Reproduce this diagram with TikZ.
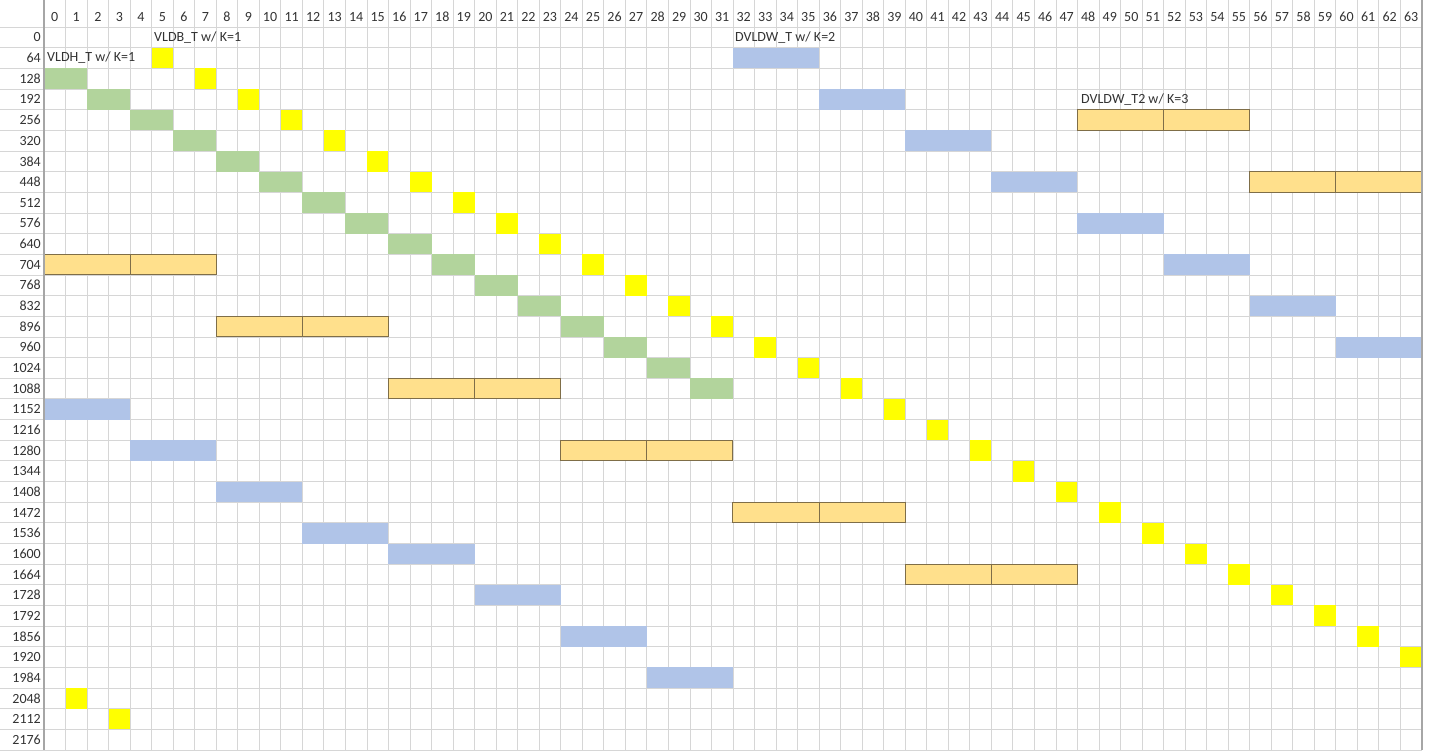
\documentclass[tikz,border=0pt]{standalone}
\usepackage{fontspec}
\setmainfont{Carlito}
\definecolor{gridc}{HTML}{D6D6D6}
\definecolor{hdrline}{HTML}{A6A6A6}
\definecolor{ylw}{HTML}{FFFF00}
\definecolor{grn}{HTML}{B2D49C}
\definecolor{blu}{HTML}{B0C4E8}
\definecolor{org}{HTML}{FFE08C}
\definecolor{orgline}{HTML}{7F6E48}
\definecolor{txt}{HTML}{333333}
\begin{document}
\begin{tikzpicture}[x=1pt,y=-1pt,
  lbl/.style={font=\fontsize{14}{16}\selectfont, text=txt, inner sep=0pt},
  gridline/.style={draw=gridc, line width=0.8pt},
  sepline/.style={draw=hdrline, line width=1.2pt},
  ycell/.style={fill=ylw},
  gcell/.style={fill=grn},
  bcell/.style={fill=blu},
  ocell/.style={fill=org, draw=orgline, line width=1pt}]
\def\cw{21.53}
\def\rh{20.66}
\def\xo{44}
\def\yo{27}
\useasboundingbox (0,0) rectangle (1432,750);
\fill[white] (0,0) rectangle (1432,750);
% grid
\foreach \c in {0,...,64} \draw[gridline] ({\xo+\c*\cw},0) -- ({\xo+\c*\cw},750);
\foreach \i in {0,...,35} \draw[gridline] (0,{\yo+\i*\rh}) -- (1422,{\yo+\i*\rh});
% yellow VLDB_T
\foreach \i in {1,...,30} {
  \pgfmathtruncatemacro{\c}{2*\i+3}
  \fill[ycell] ({\xo+\c*\cw},{\yo+\i*\rh}) rectangle ++(\cw,\rh);
}
\foreach \c/\i in {1/32,3/33}
  \fill[ycell] ({\xo+\c*\cw},{\yo+\i*\rh}) rectangle ++(\cw,\rh);
% green VLDH_T
\foreach \i in {2,...,17} {
  \pgfmathtruncatemacro{\c}{2*(\i-2)}
  \fill[gcell] ({\xo+\c*\cw},{\yo+\i*\rh}) rectangle ++({2*\cw},\rh);
}
% blue DVLDW_T
\foreach \c/\i in {32/1,36/3,40/5,44/7,48/9,52/11,56/13,60/15,0/18,4/20,8/22,12/24,16/25,20/27,24/29,28/31}
  \fill[bcell] ({\xo+\c*\cw},{\yo+\i*\rh}) rectangle ++({4*\cw},\rh);
% orange DVLDW_T2
\foreach \c/\i in {48/4,56/7,0/11,8/14,16/17,24/20,32/23,40/26} {
  \draw[ocell] ({\xo+\c*\cw},{\yo+\i*\rh}) rectangle ++({4*\cw},\rh);
  \draw[ocell] ({\xo+(\c+4)*\cw},{\yo+\i*\rh}) rectangle ++({4*\cw},\rh);
}
% separators
\draw[sepline] (\xo,0) -- (\xo,750);
\draw[sepline] (1422,0) -- (1422,750);
% column headers
\foreach \c in {0,...,63}
  \node[lbl] (col\c) at ({\xo+(\c+0.5)*\cw},17) {\c};
% row headers
\foreach \i in {0,...,34} {
  \pgfmathtruncatemacro{\v}{64*\i}
  \node[lbl, anchor=east] (row\i) at (41,{\yo+(\i+0.5)*\rh}) {\v};
}
% series labels
\node[lbl, anchor=west] (vldb) at (154,{\yo+0.5*\rh}) {VLDB\_T w/ K=1};
\node[lbl, anchor=west] (vldh) at (47,{\yo+1.5*\rh}) {VLDH\_T w/ K=1};
\node[lbl, anchor=west] (dvldw) at (735,{\yo+0.5*\rh}) {DVLDW\_T w/ K=2};
\node[lbl, anchor=west] (dvldw2) at (1081,{\yo+3.5*\rh}) {DVLDW\_T2 w/ K=3};
\end{tikzpicture}
\end{document}
